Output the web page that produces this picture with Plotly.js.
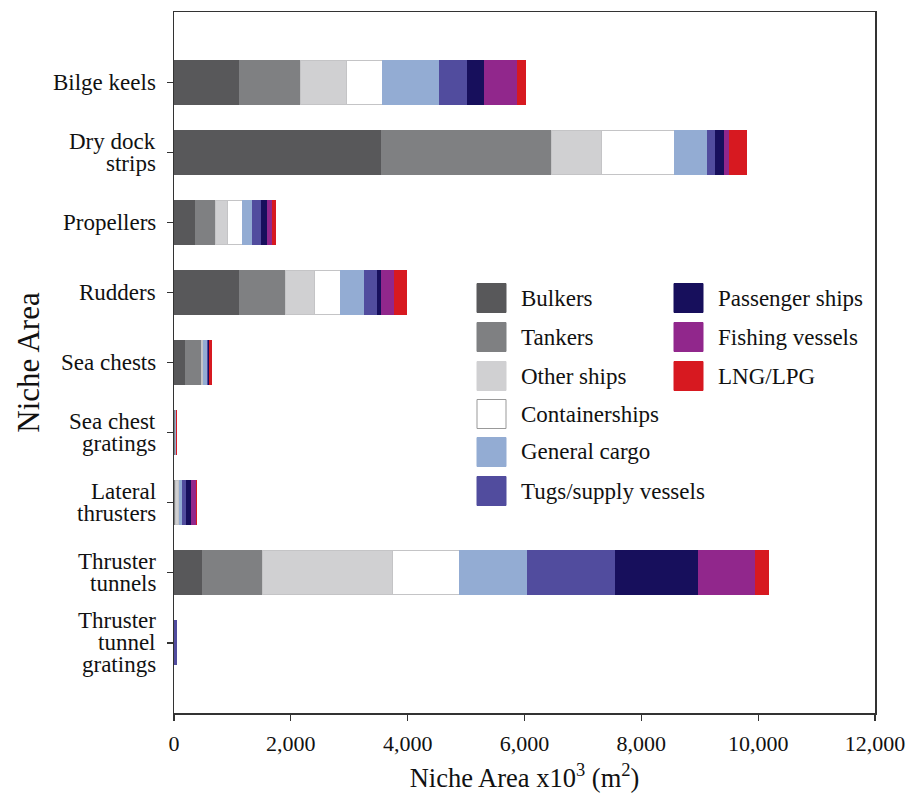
<!DOCTYPE html>
<html>
<head>
<meta charset="utf-8">
<script src="https://cdn.plot.ly/plotly-3.0.1.min.js"></script>
<style>html,body{margin:0;padding:0;background:#fff;}#chart{width:917px;height:793px;}</style>
</head>
<body>
<div id="chart"></div>
<script>
// Categories (top to bottom)
const categories = ["Bilge keels", "Dry dock<br>strips", "Propellers", "Rudders", "Sea chests",
  "Sea chest<br>gratings", "Lateral<br>thrusters", "Thruster<br>tunnels", "Thruster<br>tunnel<br>gratings"];

// Series names
const seriesNames = ["Bulkers", "Tankers", "Other ships", "Containerships", "General cargo",
  "Tugs/supply vessels", "Passenger ships", "Fishing vessels", "LNG/LPG"];

// Series values (x10^3 m^2), one per category
const bulkers    = [1118, 3560, 371, 1118, 205, 15, 10,  496, 0];
const tankers    = [1051, 2905, 331,  794, 263, 12, 15, 1027, 0];
const otherShips = [ 787,  856, 222,  496,  17,  5, 60, 2221, 0];
const containers = [ 616, 1255, 240,  445,  12,  2, 10, 1140, 0];
const generalCargo = [981, 559, 183,  411,  79,  3, 45, 1170, 0];
const tugs       = [ 468,  143, 159,  228,  17,  1, 80, 1507, 35];
const passenger  = [ 302,  142,  98,   68,  17,  1, 80, 1426, 0];
const fishing    = [ 554,   85,  74,  223,   6,  1, 80,  970, 0];
const lng        = [ 148,  303,  56,  200,  23,  6,  5,  223, 0];

const xTicks = [0, 2000, 4000, 6000, 8000, 10000, 12000];

const seriesValues = [bulkers, tankers, otherShips, containers, generalCargo, tugs, passenger, fishing, lng];
const colors = ["#58585a", "#7f8082", "#d0d0d2", "#ffffff", "#93acd3", "#514c9e", "#170f5c", "#91278c", "#d71920"];
const lineColors = ["#58585a", "#7f8082", "#c4c4c6", "#c4c4c6", "#93acd3", "#514c9e", "#170f5c", "#91278c", "#d71920"];

const FONT = "Liberation Serif, Times New Roman, serif";

const traces = seriesNames.map((name, i) => ({
  type: "bar",
  orientation: "h",
  name: name,
  y: categories,
  x: seriesValues[i].map(v => (v === 0 ? null : v)),
  marker: {color: colors[i], line: {color: lineColors[i], width: 1}},
  showlegend: false,
  hoverinfo: "x+name"
}));

// Plot area in pixels
const L = 174, R = 875, T = 12, B = 713;
const W = R - L, H = B - T;
const px = v => (v - L) / W;
const py = v => (B - v) / H;
const shapes = [];
const annotations = [];

// Category labels (multi-line, tight line spacing), placed on the y axis scale
categories.forEach(cat => {
  const lines = cat.split("<br>");
  const n = lines.length;
  lines.forEach((ln, j) => {
    annotations.push({
      xref: "paper", yref: "y", x: 0, y: cat,
      xanchor: "right", yanchor: "middle", xshift: -16,
      yshift: ((n - 1) / 2 - j) * 22,
      showarrow: false, text: ln,
      font: {family: FONT, size: 23, color: "#111"}
    });
  });
});

// Manual two-column legend
const col1 = 6;
const rowY = [298, 337, 376, 414, 452, 491];
seriesNames.forEach((name, i) => {
  const col = i < col1 ? 0 : 1;
  const row = i < col1 ? i : i - col1;
  const sx = col === 0 ? 477 : 674;
  const cy = rowY[row];
  shapes.push({
    type: "rect", xref: "paper", yref: "paper",
    x0: px(sx), x1: px(sx + 29), y0: py(cy + 14.5), y1: py(cy - 14.5),
    fillcolor: colors[i], line: {color: i === 3 ? "#999999" : colors[i], width: 1}
  });
  annotations.push({
    xref: "paper", yref: "paper", x: px(sx + 42), y: py(cy),
    xanchor: "left", yanchor: "middle", showarrow: false,
    text: name, font: {family: FONT, size: 23, color: "#111"}
  });
});

const layout = {
  width: 917, height: 793,
  margin: {l: L, r: 917 - R, t: T, b: 793 - B},
  barmode: "stack",
  bargap: 0.37,
  paper_bgcolor: "#ffffff",
  plot_bgcolor: "#ffffff",
  font: {family: FONT, size: 23, color: "#111"},
  showlegend: false,
  xaxis: {
    range: [0, 12000],
    tickvals: xTicks,
    tickformat: ",d",
    ticks: "outside", ticklen: 6, tickcolor: "#333", tickwidth: 1.2,
    ticklabelstandoff: 4,
    showline: true, mirror: true, linecolor: "#333", linewidth: 1.5,
    showgrid: false, zeroline: false,
    tickfont: {size: 22},
    title: {text: "Niche Area x10<sup>3</sup> (m<sup>2</sup>)", font: {size: 26.5}, standoff: 13}
  },
  yaxis: {
    type: "category",
    categoryorder: "array",
    categoryarray: categories,
    range: [9, -1],
    ticks: "outside", ticklen: 6, tickcolor: "#333", tickwidth: 1.2,
    showticklabels: false,
    showline: true, mirror: true, linecolor: "#333", linewidth: 1.5,
    showgrid: false, zeroline: false,
    title: {text: "Niche Area", font: {size: 31}, standoff: 117}
  },
  shapes: shapes,
  annotations: annotations
};

Plotly.newPlot("chart", traces, layout, {displayModeBar: false, staticPlot: true});
</script>
</body>
</html>
